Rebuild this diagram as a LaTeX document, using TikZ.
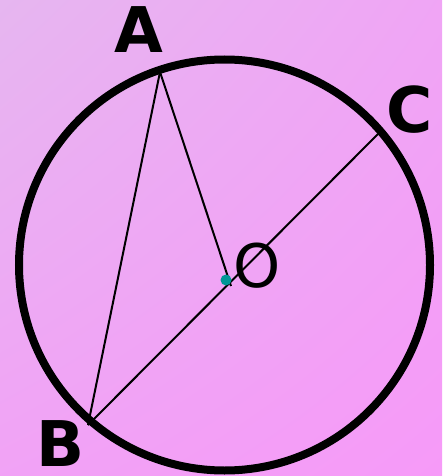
\documentclass[tikz,border=0pt]{standalone}
\usepackage{fontspec}
\setmainfont{DejaVu Sans}
\usetikzlibrary{shadings}
\definecolor{bgA}{RGB}{230,182,240}
\definecolor{bgB}{RGB}{246,154,248}
\definecolor{dotcol}{RGB}{0,150,150}
\tikzset{
  lbl/.style={font=\fontsize{63}{63}\selectfont\bfseries, inner sep=0pt},
  olbl/.style={font=\fontsize{60}{60}\selectfont, inner sep=0pt},
  thin line/.style={line width=2pt},
}
\begin{document}
\begin{tikzpicture}[x=1pt,y=-1pt]
  \useasboundingbox (0,0) rectangle (442,476);
  \shade[upper left=bgA, lower right=bgB, upper right=bgB!60!bgA, lower left=bgB!70!bgA] (0,0) rectangle (442,476);
  \coordinate (ctr) at (224.5,265);
  \draw[line width=8pt] (ctr) circle[radius=205.5];
  \coordinate (A) at (160,72);
  \coordinate (B) at (88,425);
  \coordinate (C) at (378,134);
  \coordinate (Oend) at (231,286);
  \coordinate (O) at (226,280);
  \draw[thin line] (A) -- (B);
  \draw[thin line] (A) -- (Oend);
  \draw[thin line] (B) -- (C);
  \fill[dotcol] (O) circle[radius=5.5];
  \node[lbl] (lA) at (139,30) {A};
  \node[lbl] (lB) at (61,444) {B};
  \node[lbl] (lC) at (410,110) {C};
  \node[olbl] (lO) at (257,266) {O};
\end{tikzpicture}
\end{document}
